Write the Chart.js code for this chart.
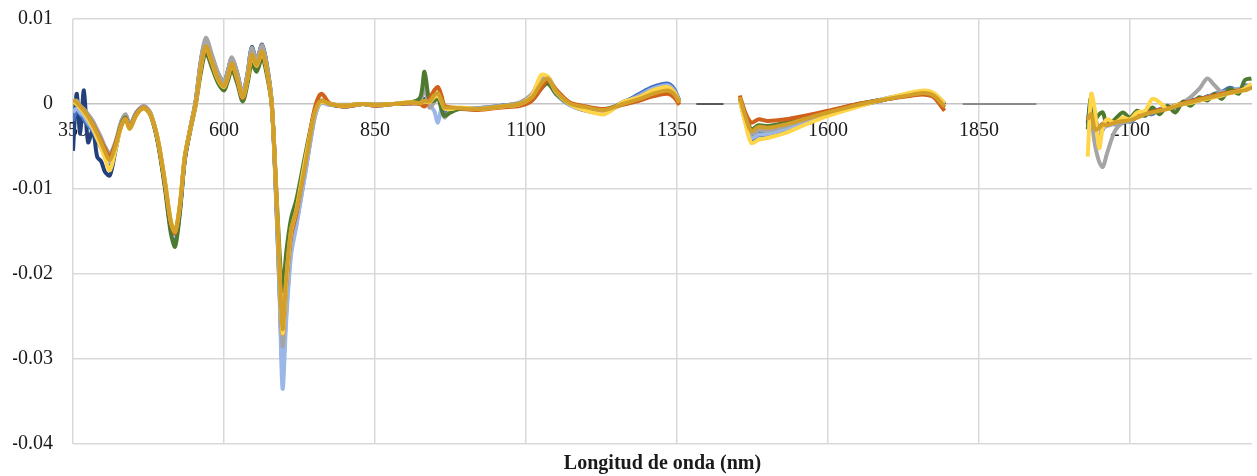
<!DOCTYPE html>
<html>
<head>
<meta charset="utf-8">
<script src="https://cdn.jsdelivr.net/npm/chart.js@4/dist/chart.umd.min.js"></script>
<style>
html,body{margin:0;padding:0;background:#fff;}
#wrap{width:1257px;height:476px;position:relative;}
</style>
</head>
<body>
<div id="wrap"><canvas id="c"></canvas></div>
<script>
// Wavelengths (nm); null values in the series break the line (water bands)
const wavelengths = [
  350,356,362,368,375,383,390,397,403,411,
  420,430,437,444,455,467,478,490,502,512,
  519,527,535,544,553,562,570,580,590,600,
  606,613,622,631,639,646,654,663,671,679,
  686,692,697,703,711,720,735,748,755,762,
  775,800,830,850,880,910,925,932,940,948,
  954,960,965,975,990,1020,1060,1090,1110,1125,
  1136,1150,1172,1200,1230,1260,1288,1310,1334,1345,
  1354,1400,1454,1463,1473,1485,1500,1530,1560,1600,
  1650,1700,1740,1760,1775,1793,1900,2030,2036,2042,
  2049,2055,2062,2075,2088,2100,2112,2125,2137,2149,
  2162,2175,2188,2200,2215,2228,2240,2252,2265,2280,
  2290,2301
];

const seriesNavy = [
  -0.0055,0.0012,-0.0035,0.0016,-0.0045,-0.0030,-0.0062,-0.0068,-0.0080,-0.0084,
  -0.0056,-0.0022,-0.0013,-0.0026,-0.0010,-0.0003,-0.0011,-0.0042,-0.0094,-0.0146,
  -0.0160,-0.0124,-0.0066,-0.0029,0.0003,0.0052,0.0075,0.0056,0.0036,0.0026,
  0.0038,0.0054,0.0036,0.0012,0.0036,0.0067,0.0052,0.0070,0.0046,0.0002,
  -0.0105,-0.0218,-0.0300,-0.0235,-0.0165,-0.0136,-0.0076,-0.0020,-0.0003,0.0003,
  0.0000,-0.0003,0.0000,-0.0001,0.0000,0.0001,0.0002,0.0006,0.0001,0.0008,
  0.0010,0.0001,-0.0008,-0.0005,-0.0005,-0.0006,-0.0002,0.0001,0.0010,0.0028,
  0.0027,0.0012,0.0000,-0.0006,-0.0009,0.0002,0.0010,0.0017,0.0022,0.0016,
  0.0004,null,0.0006,-0.0018,-0.0038,-0.0033,-0.0033,-0.0028,-0.0021,-0.0012,
  -0.0002,0.0006,0.0012,0.0014,0.0011,-0.0001,null,-0.0022,0.0008,-0.0020,
  -0.0030,-0.0026,-0.0024,-0.0020,-0.0022,-0.0018,-0.0014,-0.0013,-0.0009,-0.0007,
  -0.0004,-0.0004,0.0002,0.0003,0.0004,0.0009,0.0010,0.0012,0.0015,0.0017,
  0.0018,0.0020
];

const seriesBlue = [
  -0.0020,-0.0008,-0.0012,-0.0018,-0.0025,-0.0032,-0.0042,-0.0052,-0.0060,-0.0072,
  -0.0054,-0.0023,-0.0014,-0.0027,-0.0011,-0.0003,-0.0011,-0.0042,-0.0095,-0.0148,
  -0.0162,-0.0125,-0.0066,-0.0031,0.0002,0.0050,0.0073,0.0054,0.0034,0.0024,
  0.0036,0.0052,0.0034,0.0010,0.0034,0.0064,0.0050,0.0068,0.0044,0.0001,
  -0.0102,-0.0215,-0.0312,-0.0245,-0.0172,-0.0140,-0.0078,-0.0022,-0.0004,0.0002,
  -0.0001,-0.0002,0.0000,-0.0002,0.0000,0.0001,0.0001,0.0002,0.0000,0.0006,
  0.0008,0.0000,-0.0010,-0.0006,-0.0006,-0.0005,-0.0002,0.0001,0.0011,0.0030,
  0.0028,0.0012,-0.0001,-0.0008,-0.0010,0.0001,0.0012,0.0020,0.0024,0.0018,
  0.0003,null,0.0005,-0.0020,-0.0042,-0.0037,-0.0036,-0.0030,-0.0022,-0.0012,
  -0.0001,0.0007,0.0013,0.0015,0.0012,0.0000,null,-0.0025,-0.0010,-0.0015,
  -0.0035,-0.0030,-0.0022,-0.0024,-0.0018,-0.0021,-0.0015,-0.0011,-0.0012,-0.0006,
  -0.0005,-0.0002,0.0001,0.0004,0.0006,0.0008,0.0012,0.0014,0.0019,0.0016,
  0.0022,0.0021
];

const seriesLightBlue = [
  -0.0010,-0.0005,-0.0010,-0.0014,-0.0022,-0.0030,-0.0040,-0.0050,-0.0058,-0.0068,
  -0.0052,-0.0024,-0.0015,-0.0028,-0.0012,-0.0004,-0.0012,-0.0043,-0.0094,-0.0144,
  -0.0155,-0.0121,-0.0064,-0.0030,0.0001,0.0049,0.0072,0.0053,0.0033,0.0023,
  0.0034,0.0051,0.0033,0.0010,0.0033,0.0063,0.0049,0.0066,0.0043,0.0001,
  -0.0108,-0.0225,-0.0335,-0.0255,-0.0178,-0.0143,-0.0080,-0.0024,-0.0004,0.0001,
  -0.0001,-0.0002,0.0000,-0.0002,0.0000,0.0001,0.0000,0.0001,-0.0001,-0.0008,
  -0.0022,-0.0006,-0.0006,-0.0005,-0.0006,-0.0006,-0.0003,0.0000,0.0009,0.0027,
  0.0027,0.0011,-0.0001,-0.0007,-0.0009,0.0001,0.0010,0.0018,0.0022,0.0016,
  0.0002,null,0.0005,-0.0019,-0.0040,-0.0036,-0.0035,-0.0029,-0.0021,-0.0011,
  -0.0001,0.0007,0.0012,0.0014,0.0012,0.0001,null,-0.0020,-0.0014,-0.0025,
  -0.0032,-0.0028,-0.0026,-0.0023,-0.0021,-0.0019,-0.0014,-0.0013,-0.0009,-0.0008,
  -0.0005,-0.0003,0.0001,0.0003,0.0005,0.0008,0.0011,0.0013,0.0016,0.0018,
  0.0020,0.0022
];

const seriesGray = [
  0.0000,0.0004,-0.0002,-0.0006,-0.0012,-0.0020,-0.0030,-0.0040,-0.0050,-0.0058,
  -0.0045,-0.0020,-0.0012,-0.0024,-0.0010,-0.0002,-0.0010,-0.0040,-0.0092,-0.0142,
  -0.0152,-0.0120,-0.0063,-0.0029,0.0003,0.0053,0.0078,0.0058,0.0037,0.0026,
  0.0038,0.0055,0.0036,0.0012,0.0036,0.0066,0.0052,0.0069,0.0045,0.0002,
  -0.0098,-0.0205,-0.0285,-0.0220,-0.0158,-0.0130,-0.0070,-0.0020,-0.0002,0.0002,
  0.0000,-0.0001,0.0000,-0.0001,0.0000,0.0001,0.0004,0.0020,-0.0004,0.0002,
  0.0010,-0.0005,-0.0016,-0.0007,-0.0005,-0.0005,-0.0002,0.0002,0.0012,0.0031,
  0.0032,0.0016,0.0001,-0.0005,-0.0008,0.0001,0.0009,0.0016,0.0020,0.0015,
  0.0003,null,0.0007,-0.0016,-0.0035,-0.0031,-0.0031,-0.0026,-0.0019,-0.0010,
  -0.0001,0.0006,0.0011,0.0013,0.0011,0.0000,null,-0.0015,-0.0020,-0.0048,
  -0.0068,-0.0074,-0.0058,-0.0032,-0.0022,-0.0020,-0.0014,-0.0012,-0.0008,-0.0007,
  -0.0004,-0.0002,0.0002,0.0008,0.0018,0.0030,0.0022,0.0014,0.0016,0.0017,
  0.0018,0.0020
];

const seriesGreen = [
  0.0002,0.0000,-0.0004,-0.0009,-0.0016,-0.0026,-0.0036,-0.0046,-0.0055,-0.0063,
  -0.0048,-0.0024,-0.0016,-0.0028,-0.0012,-0.0005,-0.0013,-0.0044,-0.0098,-0.0152,
  -0.0168,-0.0128,-0.0066,-0.0032,-0.0002,0.0038,0.0060,0.0043,0.0025,0.0016,
  0.0026,0.0040,0.0024,0.0003,0.0024,0.0048,0.0038,0.0054,0.0034,-0.0002,
  -0.0092,-0.0175,-0.0220,-0.0175,-0.0135,-0.0112,-0.0058,-0.0014,0.0000,0.0004,
  0.0000,-0.0002,0.0000,-0.0001,0.0000,0.0002,0.0008,0.0038,0.0004,0.0004,
  0.0008,-0.0006,-0.0014,-0.0010,-0.0006,-0.0006,-0.0003,0.0000,0.0005,0.0018,
  0.0024,0.0012,0.0000,-0.0004,-0.0006,0.0000,0.0005,0.0010,0.0013,0.0010,
  0.0001,null,0.0007,-0.0012,-0.0030,-0.0025,-0.0026,-0.0022,-0.0017,-0.0009,
  0.0000,0.0006,0.0011,0.0012,0.0009,-0.0004,null,-0.0030,0.0010,-0.0018,
  -0.0012,-0.0010,-0.0024,-0.0018,-0.0010,-0.0016,-0.0008,-0.0014,-0.0004,-0.0012,
  -0.0002,-0.0010,0.0003,-0.0002,0.0008,0.0004,0.0012,0.0006,0.0018,0.0012,
  0.0028,0.0030
];

const seriesOrange = [
  0.0004,0.0001,-0.0003,-0.0008,-0.0015,-0.0024,-0.0034,-0.0044,-0.0053,-0.0062,
  -0.0048,-0.0025,-0.0017,-0.0028,-0.0012,-0.0004,-0.0012,-0.0041,-0.0092,-0.0140,
  -0.0152,-0.0120,-0.0063,-0.0030,0.0000,0.0043,0.0066,0.0048,0.0029,0.0020,
  0.0030,0.0046,0.0029,0.0007,0.0029,0.0056,0.0045,0.0060,0.0039,0.0000,
  -0.0098,-0.0200,-0.0270,-0.0212,-0.0155,-0.0128,-0.0066,-0.0012,0.0006,0.0012,
  0.0001,-0.0003,0.0000,-0.0002,0.0000,0.0001,0.0000,-0.0003,0.0006,0.0016,
  0.0020,0.0010,-0.0002,-0.0004,-0.0005,-0.0007,-0.0004,-0.0002,0.0004,0.0018,
  0.0028,0.0017,0.0002,-0.0003,-0.0006,-0.0001,0.0004,0.0009,0.0012,0.0008,
  -0.0001,null,0.0010,-0.0010,-0.0022,-0.0018,-0.0020,-0.0018,-0.0014,-0.0008,
  0.0000,0.0006,0.0010,0.0011,0.0008,-0.0008,null,-0.0020,-0.0015,-0.0026,
  -0.0027,-0.0023,-0.0024,-0.0021,-0.0019,-0.0018,-0.0015,-0.0011,-0.0009,-0.0007,
  -0.0005,-0.0002,0.0001,0.0003,0.0006,0.0008,0.0010,0.0012,0.0014,0.0016,
  0.0017,0.0020
];

const seriesYellow = [
  0.0003,0.0000,-0.0005,-0.0010,-0.0018,-0.0028,-0.0040,-0.0052,-0.0064,-0.0078,
  -0.0055,-0.0026,-0.0018,-0.0029,-0.0013,-0.0005,-0.0012,-0.0040,-0.0090,-0.0138,
  -0.0150,-0.0118,-0.0062,-0.0030,0.0000,0.0045,0.0067,0.0049,0.0029,0.0020,
  0.0031,0.0047,0.0030,0.0008,0.0030,0.0057,0.0045,0.0061,0.0040,0.0000,
  -0.0096,-0.0198,-0.0270,-0.0210,-0.0150,-0.0124,-0.0064,-0.0017,-0.0002,0.0003,
  0.0000,-0.0002,0.0000,-0.0001,0.0000,0.0002,0.0001,0.0003,0.0002,0.0008,
  0.0010,0.0003,-0.0005,-0.0006,-0.0004,-0.0006,-0.0003,0.0000,0.0010,0.0034,
  0.0032,0.0014,0.0000,-0.0008,-0.0012,0.0002,0.0008,0.0016,0.0020,0.0014,
  0.0002,null,0.0004,-0.0022,-0.0046,-0.0042,-0.0040,-0.0034,-0.0025,-0.0014,
  -0.0003,0.0007,0.0014,0.0016,0.0013,0.0001,null,-0.0062,0.0012,-0.0008,
  -0.0052,-0.0028,-0.0018,-0.0022,-0.0016,-0.0018,-0.0010,-0.0008,0.0006,0.0002,
  -0.0006,-0.0002,0.0000,0.0001,0.0004,0.0006,0.0008,0.0010,0.0013,0.0015,
  0.0018,0.0024
];

const seriesGold = [
  0.0005,0.0002,-0.0003,-0.0008,-0.0015,-0.0025,-0.0035,-0.0046,-0.0056,-0.0066,
  -0.0050,-0.0026,-0.0018,-0.0029,-0.0013,-0.0005,-0.0012,-0.0040,-0.0090,-0.0138,
  -0.0150,-0.0118,-0.0062,-0.0030,0.0000,0.0045,0.0068,0.0050,0.0030,0.0021,
  0.0032,0.0048,0.0030,0.0008,0.0030,0.0058,0.0046,0.0062,0.0040,0.0000,
  -0.0095,-0.0195,-0.0265,-0.0205,-0.0148,-0.0125,-0.0070,-0.0016,-0.0001,0.0004,
  0.0000,-0.0002,0.0000,-0.0001,0.0000,0.0002,0.0001,0.0004,0.0003,0.0010,
  0.0013,0.0004,-0.0004,-0.0004,-0.0005,-0.0006,-0.0003,0.0000,0.0008,0.0024,
  0.0030,0.0015,0.0001,-0.0004,-0.0007,0.0000,0.0006,0.0012,0.0016,0.0012,
  0.0002,null,0.0008,-0.0014,-0.0032,-0.0027,-0.0028,-0.0024,-0.0018,-0.0010,
  -0.0001,0.0006,0.0011,0.0013,0.0010,-0.0003,null,-0.0018,-0.0012,-0.0030,
  -0.0028,-0.0024,-0.0025,-0.0022,-0.0020,-0.0019,-0.0016,-0.0012,-0.0010,-0.0008,
  -0.0006,-0.0003,0.0000,0.0002,0.0005,0.0007,0.0009,0.0011,0.0013,0.0015,
  0.0016,0.0019
];

// flat zero segments shown in the water-band gaps
const gapDarkX = [1382, 1427];
const gapDarkY = [0, 0];
const gapLightX = [1823, 1945];
const gapLightY = [0, 0];

const xTicks = [350, 600, 850, 1100, 1350, 1600, 1850, 2100];
const yTicks = [0.01, 0, -0.01, -0.02, -0.03, -0.04];
const xTitle = 'Longitud de onda (nm)';

// listed top-most first (Chart.js draws the first dataset on top)
const seriesList = [
  {data: seriesGold, color: '#d2a028'},
  {data: seriesYellow, color: '#ffd54a'},
  {data: seriesOrange, color: '#d0601a'},
  {data: seriesGreen, color: '#4e7a30'},
  {data: seriesGray, color: '#a5a5a5'},
  {data: seriesLightBlue, color: '#9bb7e8'},
  {data: seriesBlue, color: '#4472c4'},
  {data: seriesNavy, color: '#23407a'}
];

const toPoints = (xs, ys) => xs.map((x, i) => ({x: x, y: ys[i]}));

const datasets = seriesList.map(s => ({
  data: toPoints(wavelengths, s.data),
  borderColor: s.color,
  borderWidth: 4
})).concat([
  {data: toPoints(gapDarkX, gapDarkY), borderColor: '#5a5a5a', borderWidth: 2},
  {data: toPoints(gapLightX, gapLightY), borderColor: '#8a8a8a', borderWidth: 2}
]);

datasets.forEach(d => {
  d.pointRadius = 0;
  d.fill = false;
  d.tension = 0.3;
  d.spanGaps = false;
  d.xAxisID = 'x';
  d.yAxisID = 'y';
});

const serif = 'Liberation Serif, "Times New Roman", serif';

new Chart(document.getElementById('c'), {
  type: 'line',
  data: {datasets: datasets},
  options: {
    responsive: true,
    maintainAspectRatio: false,
    animation: false,
    layout: {padding: {top: 19, right: 5, left: 13, bottom: 0}},
    plugins: {legend: {display: false}, tooltip: {enabled: false}},
    scales: {
      x: {
        type: 'linear',
        min: 350,
        max: 2302,
        position: {y: 0},
        afterBuildTicks: (scale) => { scale.ticks = xTicks.map(v => ({value: v})); },
        ticks: {
          font: {family: serif, size: 20},
          color: '#1a1a1a',
          padding: 15,
          maxRotation: 0,
          autoSkip: false,
          callback: (v) => String(v)
        },
        grid: {color: '#d9d9d9', lineWidth: 1.5, drawTicks: false},
        border: {display: false}
      },
      xb: {
        type: 'linear',
        position: 'bottom',
        min: 350,
        max: 2302,
        ticks: {display: false},
        grid: {display: false, drawTicks: false},
        border: {display: false},
        title: {
          display: true,
          text: xTitle,
          font: {family: serif, size: 20, weight: 'bold'},
          color: '#1a1a1a',
          padding: {top: 8, bottom: 0}
        }
      },
      y: {
        type: 'linear',
        min: -0.04,
        max: 0.01,
        afterBuildTicks: (scale) => { scale.ticks = yTicks.map(v => ({value: v})); },
        afterFit: (scale) => {
          scale.width = 60;
          scale.paddingTop = 10;
          scale.paddingBottom = 10;
        },
        ticks: {
          font: {family: serif, size: 20},
          color: '#1a1a1a',
          padding: 20,
          callback: (v) => String(Number(Number(v).toFixed(2)))
        },
        grid: {
          color: (ctx) => (ctx.tick && ctx.tick.value === 0) ? '#c4c4c4' : '#d9d9d9',
          lineWidth: 1.5,
          drawTicks: false
        },
        border: {display: false}
      }
    }
  }
});
</script>
</body>
</html>
